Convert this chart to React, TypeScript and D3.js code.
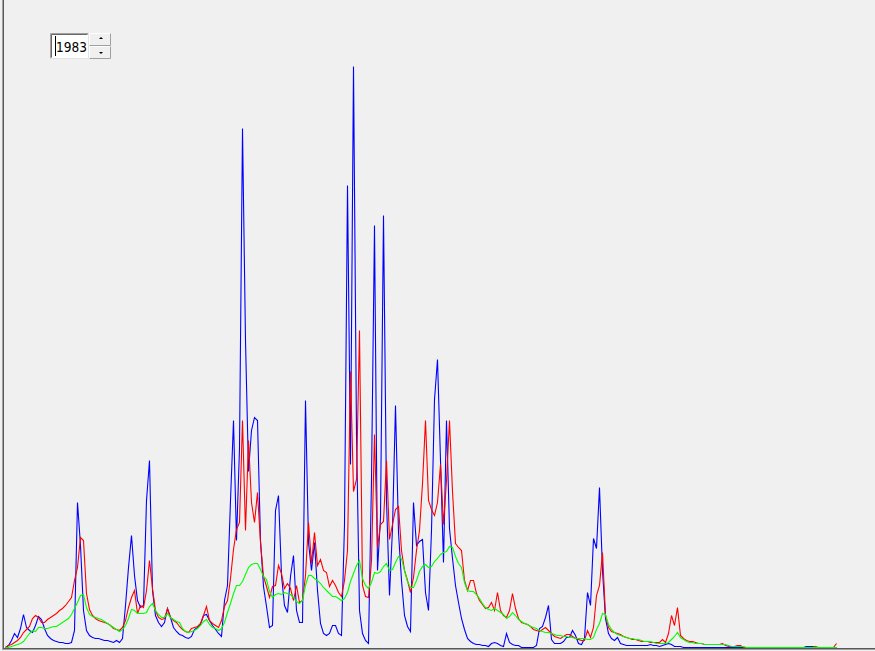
import React from 'react';
import * as d3 from 'd3';

// Year shown in the spinner
const YEAR = 1983;

// Three daily-ish flow series sampled along the year (one sample every ~3 px of the original)
const blueFlow = [
  0, 2, 7, 14, 10, 19, 33, 20, 17, 15,
  22, 31, 28, 19, 12, 9, 7, 6, 5, 5,
  4, 4, 5, 17, 145, 102, 37, 17, 12, 10,
  9, 9, 8, 7, 7, 6, 5, 7, 5, 9,
  42, 80, 112, 72, 47, 40, 42, 147, 187, 57,
  32, 25, 21, 25, 39, 30, 20, 16, 13, 12,
  10, 9, 11, 18, 20, 23, 32, 33, 27, 22,
  18, 14, 11, 47, 62, 147, 227, 107, 199, 519,
  307, 176, 217, 230, 227, 107, 61, 41, 20, 22,
  137, 152, 72, 42, 35, 71, 92, 37, 25, 25,
  247, 105, 77, 105, 57, 24, 14, 12, 14, 22,
  22, 14, 12, 123, 462, 183, 581, 213, 37, 14,
  7, 4, 167, 422, 77, 130, 432, 147, 52, 119,
  242, 115, 67, 32, 21, 16, 145, 102, 106, 108,
  55, 37, 117, 248, 288, 187, 85, 227, 119, 89,
  62, 45, 29, 18, 9, 6, 4, 3, 3, 2,
  2, 1, 4, 5, 4, 2, 1, 14, 5, 3,
  2, 2, 0, 0, 0, 0, 0, 2, 19, 21,
  30, 42, 8, 4, 4, 4, 6, 10, 10, 17,
  12, 4, 3, 9, 55, 42, 109, 99, 160, 77,
  29, 14, 9, 7, 10, 4, 3, 2, 2, 2,
  2, 2, 2, 2, 2, 3, 2, 2, 1, 2,
  3, 4, 3, 1, 1, 1, 0, 0, 0, 0,
  0, 0, 0, 0, 0, 0, 0, 0, 0, 0,
  0, 0, 0, 0, 0, 0, 0, 0, 0, 0,
  0, 0, 0, 0, 0, 0, 0, 0, 0, 0,
  0, 0, 0, 0, 0, 0, 0, 1, 1, 1,
  0, 0, 0, 0, 0, 0, 0, 0,
];

const redFlow = [
  0, 2, 3, 5, 7, 10, 15, 18, 21, 29,
  32, 30, 25, 25, 28, 30, 32, 34, 37, 39,
  42, 46, 50, 67, 80, 110, 107, 54, 38, 32,
  29, 27, 26, 25, 24, 22, 19, 18, 17, 20,
  27, 40, 50, 57, 34, 42, 40, 57, 87, 59,
  37, 30, 28, 29, 39, 30, 27, 25, 21, 18,
  16, 15, 19, 20, 21, 24, 32, 41, 27, 24,
  22, 20, 27, 41, 47, 69, 98, 118, 125, 227,
  117, 207, 145, 125, 155, 105, 71, 61, 50, 61,
  62, 82, 74, 59, 64, 59, 47, 62, 45, 47,
  72, 125, 84, 115, 82, 88, 77, 75, 61, 67,
  62, 55, 51, 67, 97, 276, 156, 168, 317, 62,
  51, 50, 87, 213, 100, 123, 126, 187, 108, 123,
  138, 141, 97, 77, 67, 55, 70, 97, 117, 164,
  227, 147, 138, 132, 145, 183, 123, 167, 227, 156,
  104, 100, 97, 67, 57, 67, 67, 54, 47, 43,
  39, 40, 45, 37, 55, 37, 32, 30, 37, 54,
  39, 29, 25, 24, 23, 21, 18, 17, 16, 18,
  20, 17, 14, 11, 10, 9, 11, 13, 13, 11,
  9, 8, 7, 7, 17, 10, 20, 52, 62, 95,
  32, 20, 16, 15, 14, 13, 11, 10, 9, 8,
  8, 7, 6, 6, 6, 5, 5, 5, 5, 8,
  5, 14, 32, 22, 40, 12, 9, 7, 6, 6,
  5, 4, 4, 3, 3, 3, 3, 3, 3, 4,
  2, 1, 1, 1, 2, 2, 0, 0, 0, 0,
  0, 0, 0, 0, 0, 0, 0, 0, 0, 0,
  0, 0, 0, 0, 0, 0, 0, 0, 0, 0,
  1, 0, 0, 0, 0, 0, 0, 4,
];

const greenFlow = [
  0, 0, 1, 2, 3, 4, 6, 10, 14, 17,
  16, 20, 20, 19, 19, 20, 21, 21, 23, 25,
  27, 29, 33, 39, 45, 52, 53, 40, 33, 31,
  30, 29, 28, 26, 24, 22, 20, 18, 16, 18,
  22, 29, 38, 37, 34, 34, 34, 35, 41, 44,
  37, 33, 30, 30, 34, 30, 28, 26, 25, 19,
  16, 15, 16, 17, 19, 22, 26, 28, 23, 20,
  19, 17, 19, 25, 35, 44, 54, 62, 62, 66,
  73, 80, 83, 84, 84, 78, 71, 68, 56, 50,
  53, 54, 53, 55, 54, 53, 50, 46, 44, 47,
  62, 72, 72, 69, 67, 64, 60, 57, 54, 51,
  51, 49, 47, 49, 55, 66, 74, 82, 87, 69,
  62, 59, 65, 75, 74, 76, 81, 84, 77, 78,
  85, 91, 89, 77, 66, 60, 60, 67, 76, 81,
  83, 80, 81, 86, 89, 93, 95, 96, 101, 100,
  91, 84, 80, 65, 57, 56, 56, 53, 49, 44,
  40, 38, 37, 39, 37, 35, 33, 29, 31, 35,
  32, 28, 26, 24, 23, 21, 20, 19, 17, 16,
  15, 15, 14, 13, 12, 12, 11, 11, 10, 10,
  9, 9, 9, 9, 8, 8, 10, 18, 24, 34,
  33, 23, 18, 15, 13, 12, 11, 10, 9, 9,
  8, 8, 7, 6, 6, 6, 5, 4, 4, 4,
  4, 5, 8, 11, 15, 10, 8, 6, 5, 5,
  4, 4, 4, 3, 3, 3, 3, 3, 3, 3,
  3, 2, 1, 1, 1, 1, 1, 0, 0, 0,
  0, 0, 0, 0, 0, 0, 0, 0, 0, 0,
  0, 0, 0, 0, 0, 0, 0, 0, 0, 0,
  0, 0, 0, 0, 0, 0, 0, 0,
];

const SERIES = [
  { name: 'blue', values: blueFlow, color: '#0000ff' },
  { name: 'red', values: redFlow, color: '#ff0000' },
  { name: 'green', values: greenFlow, color: '#00ff00' },
];

export default function App() {
  const W = 875;
  const H = 651;
  const n = Math.max(blueFlow.length, redFlow.length, greenFlow.length);
  const x = d3.scaleLinear().domain([0, n - 1]).range([5.5, 836.5]);
  const y = d3.scaleLinear().domain([0, 600]).range([647.5, 47.5]);
  const line = d3
    .line<number>()
    .x((_, i) => x(i))
    .y((d) => y(d));

  return (
    <svg
      width={W}
      height={H}
      style={{ position: 'absolute', left: 0, top: 0, display: 'block' }}
    >
      <rect x={0} y={0} width={W} height={H} fill="#f0f0f0" />
      {/* frame */}
      <rect x={2} y={0} width={1} height={650} fill="#a0a0a0" />
      <rect x={3} y={0} width={1} height={650} fill="#5a5a5a" />
      <rect x={3} y={648} width={W - 3} height={1} fill="#5a5a5a" />
      <rect x={3} y={649} width={W - 3} height={1} fill="#a0a0a0" />

      {SERIES.map((s) => (
        <path
          key={s.name}
          d={line(s.values) || ''}
          fill="none"
          stroke={s.color}
          strokeWidth={1.1}
          strokeLinejoin="miter"
        />
      ))}

      {/* year spinner */}
      <g>
        <rect x={50} y={33} width={39} height={26} fill="#ffffff" />
        <path d="M50.5 58.5 V33.5 H88.5" fill="none" stroke="#a0a0a0" />
        <path d="M51.5 57.5 V34.5 H87.5" fill="none" stroke="#696969" />
        <path d="M50.5 58.5 H88.5 V33.5" fill="none" stroke="#e3e3e3" />
        <line x1={55.5} y1={36} x2={55.5} y2={56} stroke="#000" strokeWidth={1} />
        <text
          x={56}
          y={51.5}
          fontFamily="'DejaVu Sans', sans-serif"
          fontSize={14}
          fill="#000"
          textLength={31}
          lengthAdjust="spacingAndGlyphs"
        >
          {YEAR}
        </text>
        {/* up button */}
        <rect x={89} y={33} width={22} height={13} fill="#f0f0f0" />
        <path d="M89.5 45.5 V33.5 H110.5" fill="none" stroke="#ffffff" />
        <path d="M89.5 45.5 H110.5 V33.5" fill="none" stroke="#a0a0a0" />
        <path d="M99 39 L101 37 L103 39 Z" fill="#000" />
        {/* down button */}
        <rect x={89} y={46} width={22} height={13} fill="#f0f0f0" />
        <path d="M89.5 58.5 V46.5 H110.5" fill="none" stroke="#ffffff" />
        <path d="M89.5 58.5 H110.5 V46.5" fill="none" stroke="#a0a0a0" />
        <path d="M99 52 L101 54 L103 52 Z" fill="#000" />
      </g>
    </svg>
  );
}
